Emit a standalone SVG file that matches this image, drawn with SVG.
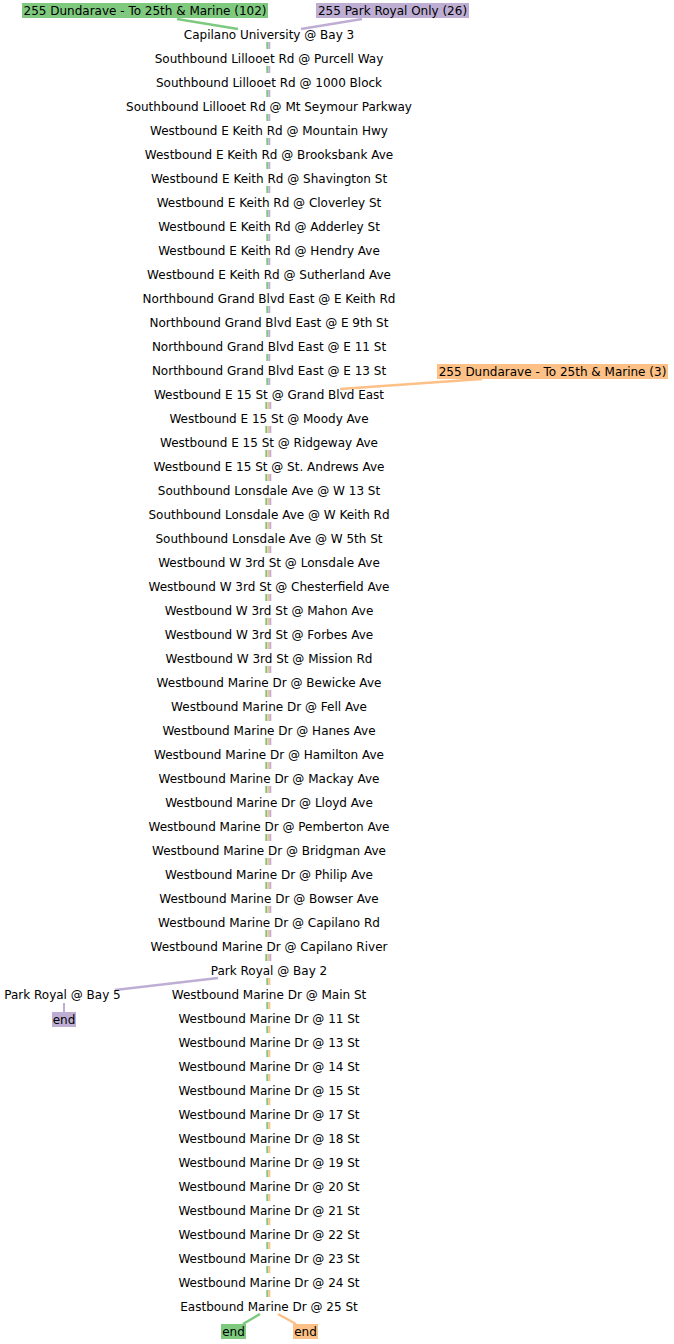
<svg xmlns="http://www.w3.org/2000/svg" width="674" height="1344" viewBox="0 0 674 1344">
<style>
text{font-family:"DejaVu Sans",sans-serif;font-size:12px;fill:#000;text-anchor:middle}
.g{stroke:#7fc97f;fill:none}
.o{stroke:#fdc086;fill:none}
.p{stroke:#beaed4;fill:none}
.s{stroke-width:2}
.d{stroke-width:2.5}
</style>
<rect width="674" height="1344" fill="#fff"/>
<g id="connectors">
<path class="g s" d="M267.3 42V49M267.3 66V73M267.3 90V97M267.3 114V121M267.3 138V145M267.3 162V169M267.3 186V193M267.3 210V217M267.3 234V241M267.3 258V265M267.3 282V289M267.3 306V313M267.3 330V337M267.3 354V361M267.3 378V385"/>
<path class="p s" d="M269.3 42V49M269.3 66V73M269.3 90V97M269.3 114V121M269.3 138V145M269.3 162V169M269.3 186V193M269.3 210V217M269.3 234V241M269.3 258V265M269.3 282V289M269.3 306V313M269.3 330V337M269.3 354V361M269.3 378V385"/>
<path class="g s" d="M266.3 402V409M266.3 426V433M266.3 450V457M266.3 474V481M266.3 498V505M266.3 522V529M266.3 546V553M266.3 570V577M266.3 594V601M266.3 618V625M266.3 642V649M266.3 666V673M266.3 690V697M266.3 714V721M266.3 738V745M266.3 762V769M266.3 786V793M266.3 810V817M266.3 834V841M266.3 858V865M266.3 882V889M266.3 906V913M266.3 930V937M266.3 954V961"/>
<path class="o s" d="M268.3 402V409M268.3 426V433M268.3 450V457M268.3 474V481M268.3 498V505M268.3 522V529M268.3 546V553M268.3 570V577M268.3 594V601M268.3 618V625M268.3 642V649M268.3 666V673M268.3 690V697M268.3 714V721M268.3 738V745M268.3 762V769M268.3 786V793M268.3 810V817M268.3 834V841M268.3 858V865M268.3 882V889M268.3 906V913M268.3 930V937M268.3 954V961"/>
<path class="p s" d="M270.3 402V409M270.3 426V433M270.3 450V457M270.3 474V481M270.3 498V505M270.3 522V529M270.3 546V553M270.3 570V577M270.3 594V601M270.3 618V625M270.3 642V649M270.3 666V673M270.3 690V697M270.3 714V721M270.3 738V745M270.3 762V769M270.3 786V793M270.3 810V817M270.3 834V841M270.3 858V865M270.3 882V889M270.3 906V913M270.3 930V937M270.3 954V961"/>
<path class="g s" d="M267.3 978V985M267.3 1002V1009M267.3 1026V1033M267.3 1050V1057M267.3 1074V1081M267.3 1098V1105M267.3 1122V1129M267.3 1146V1153M267.3 1170V1177M267.3 1194V1201M267.3 1218V1225M267.3 1242V1249M267.3 1266V1273M267.3 1290V1297"/>
<path class="o s" d="M269.3 978V985M269.3 1002V1009M269.3 1026V1033M269.3 1050V1057M269.3 1074V1081M269.3 1098V1105M269.3 1122V1129M269.3 1146V1153M269.3 1170V1177M269.3 1194V1201M269.3 1218V1225M269.3 1242V1249M269.3 1266V1273M269.3 1290V1297"/>
<path class="g d" d="M177 19L238 29"/>
<path class="p d" d="M362 19L301 29"/>
<path class="o d" d="M482 379L340 389"/>
<path class="p d" d="M218 978L115 990"/>
<path class="p s" d="M64 1003V1012"/>
<path class="g d" d="M260 1314L243 1324"/>
<path class="o d" d="M278 1314L296 1324"/>
</g>
<g id="label-green-102"><rect x="22" y="3" width="246" height="15" fill="#7fc97f"/><text x="145" y="15">255 Dundarave - To 25th &amp; Marine (102)</text></g>
<g id="label-purple-26"><rect x="316" y="3" width="153" height="15" fill="#beaed4"/><text x="392.5" y="15">255 Park Royal Only (26)</text></g>
<g id="label-orange-3"><rect x="437" y="364" width="231" height="15" fill="#fdc086"/><text x="552.5" y="376">255 Dundarave - To 25th &amp; Marine (3)</text></g>
<g id="stop-0"><text x="269" y="38.5">Capilano University @ Bay 3</text></g>
<g id="stop-1"><text x="269" y="62.5">Southbound Lillooet Rd @ Purcell Way</text></g>
<g id="stop-2"><text x="269" y="86.5">Southbound Lillooet Rd @ 1000 Block</text></g>
<g id="stop-3"><text x="269" y="110.5">Southbound Lillooet Rd @ Mt Seymour Parkway</text></g>
<g id="stop-4"><text x="269" y="134.5">Westbound E Keith Rd @ Mountain Hwy</text></g>
<g id="stop-5"><text x="269" y="158.5">Westbound E Keith Rd @ Brooksbank Ave</text></g>
<g id="stop-6"><text x="269" y="182.5">Westbound E Keith Rd @ Shavington St</text></g>
<g id="stop-7"><text x="269" y="206.5">Westbound E Keith Rd @ Cloverley St</text></g>
<g id="stop-8"><text x="269" y="230.5">Westbound E Keith Rd @ Adderley St</text></g>
<g id="stop-9"><text x="269" y="254.5">Westbound E Keith Rd @ Hendry Ave</text></g>
<g id="stop-10"><text x="269" y="278.5">Westbound E Keith Rd @ Sutherland Ave</text></g>
<g id="stop-11"><text x="269" y="302.5">Northbound Grand Blvd East @ E Keith Rd</text></g>
<g id="stop-12"><text x="269" y="326.5">Northbound Grand Blvd East @ E 9th St</text></g>
<g id="stop-13"><text x="269" y="350.5">Northbound Grand Blvd East @ E 11 St</text></g>
<g id="stop-14"><text x="269" y="374.5">Northbound Grand Blvd East @ E 13 St</text></g>
<g id="stop-15"><text x="269" y="398.5">Westbound E 15 St @ Grand Blvd East</text></g>
<g id="stop-16"><text x="269" y="422.5">Westbound E 15 St @ Moody Ave</text></g>
<g id="stop-17"><text x="269" y="446.5">Westbound E 15 St @ Ridgeway Ave</text></g>
<g id="stop-18"><text x="269" y="470.5">Westbound E 15 St @ St. Andrews Ave</text></g>
<g id="stop-19"><text x="269" y="494.5">Southbound Lonsdale Ave @ W 13 St</text></g>
<g id="stop-20"><text x="269" y="518.5">Southbound Lonsdale Ave @ W Keith Rd</text></g>
<g id="stop-21"><text x="269" y="542.5">Southbound Lonsdale Ave @ W 5th St</text></g>
<g id="stop-22"><text x="269" y="566.5">Westbound W 3rd St @ Lonsdale Ave</text></g>
<g id="stop-23"><text x="269" y="590.5">Westbound W 3rd St @ Chesterfield Ave</text></g>
<g id="stop-24"><text x="269" y="614.5">Westbound W 3rd St @ Mahon Ave</text></g>
<g id="stop-25"><text x="269" y="638.5">Westbound W 3rd St @ Forbes Ave</text></g>
<g id="stop-26"><text x="269" y="662.5">Westbound W 3rd St @ Mission Rd</text></g>
<g id="stop-27"><text x="269" y="686.5">Westbound Marine Dr @ Bewicke Ave</text></g>
<g id="stop-28"><text x="269" y="710.5">Westbound Marine Dr @ Fell Ave</text></g>
<g id="stop-29"><text x="269" y="734.5">Westbound Marine Dr @ Hanes Ave</text></g>
<g id="stop-30"><text x="269" y="758.5">Westbound Marine Dr @ Hamilton Ave</text></g>
<g id="stop-31"><text x="269" y="782.5">Westbound Marine Dr @ Mackay Ave</text></g>
<g id="stop-32"><text x="269" y="806.5">Westbound Marine Dr @ Lloyd Ave</text></g>
<g id="stop-33"><text x="269" y="830.5">Westbound Marine Dr @ Pemberton Ave</text></g>
<g id="stop-34"><text x="269" y="854.5">Westbound Marine Dr @ Bridgman Ave</text></g>
<g id="stop-35"><text x="269" y="878.5">Westbound Marine Dr @ Philip Ave</text></g>
<g id="stop-36"><text x="269" y="902.5">Westbound Marine Dr @ Bowser Ave</text></g>
<g id="stop-37"><text x="269" y="926.5">Westbound Marine Dr @ Capilano Rd</text></g>
<g id="stop-38"><text x="269" y="950.5">Westbound Marine Dr @ Capilano River</text></g>
<g id="stop-39"><text x="269" y="974.5">Park Royal @ Bay 2</text></g>
<g id="stop-40"><text x="269" y="998.5">Westbound Marine Dr @ Main St</text></g>
<g id="stop-41"><text x="269" y="1022.5">Westbound Marine Dr @ 11 St</text></g>
<g id="stop-42"><text x="269" y="1046.5">Westbound Marine Dr @ 13 St</text></g>
<g id="stop-43"><text x="269" y="1070.5">Westbound Marine Dr @ 14 St</text></g>
<g id="stop-44"><text x="269" y="1094.5">Westbound Marine Dr @ 15 St</text></g>
<g id="stop-45"><text x="269" y="1118.5">Westbound Marine Dr @ 17 St</text></g>
<g id="stop-46"><text x="269" y="1142.5">Westbound Marine Dr @ 18 St</text></g>
<g id="stop-47"><text x="269" y="1166.5">Westbound Marine Dr @ 19 St</text></g>
<g id="stop-48"><text x="269" y="1190.5">Westbound Marine Dr @ 20 St</text></g>
<g id="stop-49"><text x="269" y="1214.5">Westbound Marine Dr @ 21 St</text></g>
<g id="stop-50"><text x="269" y="1238.5">Westbound Marine Dr @ 22 St</text></g>
<g id="stop-51"><text x="269" y="1262.5">Westbound Marine Dr @ 23 St</text></g>
<g id="stop-52"><text x="269" y="1286.5">Westbound Marine Dr @ 24 St</text></g>
<g id="stop-53"><text x="269" y="1310.5">Eastbound Marine Dr @ 25 St</text></g>
<g id="stop-bay5"><text x="62.5" y="998.5">Park Royal @ Bay 5</text></g>
<g id="end-purple"><rect x="52" y="1012" width="24" height="15" fill="#beaed4"/><text x="64" y="1023.5">end</text></g>
<g id="end-green"><rect x="221" y="1324" width="25" height="15" fill="#7fc97f"/><text x="233.5" y="1335.5">end</text></g>
<g id="end-orange"><rect x="293" y="1324" width="25" height="15" fill="#fdc086"/><text x="305.5" y="1335.5">end</text></g>
</svg>
